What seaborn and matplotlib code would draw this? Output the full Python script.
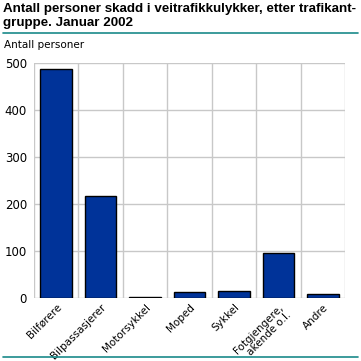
import matplotlib
matplotlib.use('Agg')
import matplotlib.pyplot as plt
import seaborn as sns
import pandas as pd

categories = ['Bilførere', 'Bilpassasjerer', 'Motorsykkel', 'Moped', 'Sykkel',
              'Fotgjengere,\nakende o.l.', 'Andre']
values = [487, 216, 3, 13, 15, 96, 9]
yticks = [0, 100, 200, 300, 400, 500]

df = pd.DataFrame({'gruppe': categories, 'antall': values})

sns.set_style('white')
plt.rcParams['font.family'] = ['DejaVu Sans']
plt.rcParams['text.color'] = 'black'
plt.rcParams['xtick.color'] = 'black'
plt.rcParams['ytick.color'] = 'black'

fig = plt.figure(figsize=(3.61, 3.61), dpi=100)
ax = fig.add_axes([34 / 361, 1 - 298 / 361, 311 / 361, 235 / 361])

sns.barplot(data=df, x='gruppe', y='antall', color='#003399', edgecolor='black',
            linewidth=1.0, width=0.71, saturation=1, ax=ax, zorder=3)

ax.set_xlim(-0.5, len(categories) - 0.5)
ax.set_ylim(0, 500)
ax.set_yticks(yticks)
ax.set_yticklabels([str(v) for v in yticks], fontsize=8.5)
for y in yticks:
    ax.axhline(y, color='#c8c8c8', lw=1, zorder=1)
for i in range(len(categories) + 1):
    ax.axvline(i - 0.5, color='#c8c8c8', lw=1, zorder=1)
ax.set_xticks(range(len(categories)))
ax.set_xticklabels(categories, rotation=45, ha='right', rotation_mode='anchor',
                   fontsize=7.5, linespacing=1.15)
ax.tick_params(axis='x', length=0, pad=3)
ax.tick_params(axis='y', length=3, color='#c8c8c8', labelcolor='black', pad=2)
for s in ax.spines.values():
    s.set_visible(False)
ax.set_xlabel('')
ax.set_ylabel('')

fig.text(3 / 361, 1 - 3 / 361, 'Antall personer skadd i veitrafikkulykker, etter trafikant-\ngruppe. Januar 2002',
         fontsize=9.6, fontweight='bold', family='Liberation Sans', va='top', ha='left',
         linespacing=1.25)
fig.text(4 / 361, 1 - 40 / 361, 'Antall personer', fontsize=7.5, va='top', ha='left')

fig.add_artist(plt.Line2D([3 / 361, 358 / 361], [1 - 33 / 361, 1 - 33 / 361],
                          color='#1a8a8a', lw=1.2))
fig.add_artist(plt.Line2D([3 / 361, 358 / 361], [1 - 357 / 361, 1 - 357 / 361],
                          color='#1a8a8a', lw=1.2))

fig.savefig('out.png', dpi=100)
